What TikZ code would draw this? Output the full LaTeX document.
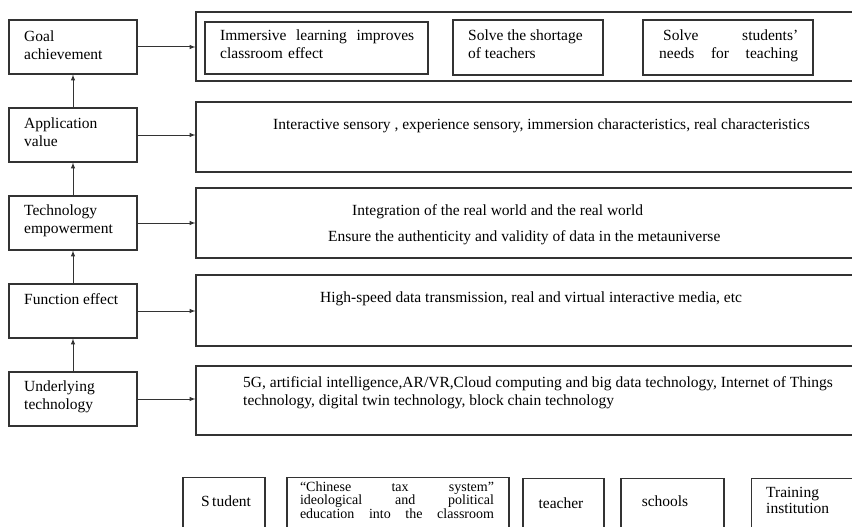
\documentclass[tikz,border=0pt]{standalone}
\usepackage{fontspec}
\setmainfont{Liberation Serif}
\usetikzlibrary{arrows,positioning,calc}

\tikzset{
  box/.style={draw=black!80, line width=1.2pt, rectangle, inner sep=0pt},
  lbox/.style={box, minimum width=128pt, minimum height=54pt},
  rbox/.style={box, minimum width=674pt, minimum height=70pt},
  txt/.style={font=\fontsize{15.5}{18}\selectfont, align=left, inner sep=0pt, anchor=north west},
  small/.style={font=\fontsize{15.5}{16}\selectfont, inner sep=0pt},
  link/.style={draw=black!80, line width=1pt, -latex},
}

\begin{document}
\begin{tikzpicture}[x=1pt,y=-1pt]
        \useasboundingbox (0,0) rectangle (852,527);
        \clip (0,0) rectangle (852,527);
        % left column
        \node[lbox] (goal) at (73,47) {};
        \node[lbox] (appval) at (73,135) {};
        \node[lbox] (techemp) at (73,223) {};
        \node[lbox] (funceff) at (73,311) {};
        \node[lbox] (undtech) at (73,399) {};
        \node[txt] at (24,31) {Goal\\achievement};
        \node[txt] at (24,118) {Application\\value};
        \node[txt] at (24,205) {Technology\\empowerment};
        \node[txt] at (24,293) {Function effect};
        \node[txt] at (24,381) {Underlying\\technology};
        % right column
        \node[rbox, minimum height=69pt] (goalR) at (533,46.5) {};
        \node[rbox] (appvalR) at (533,137) {};
        \node[rbox] (techempR) at (533,223) {};
        \node[rbox, minimum height=71pt] (funceffR) at (533,310.5) {};
        \node[rbox, minimum height=69pt] (undtechR) at (533,400.5) {};
        % goals
        \node[box, minimum width=223pt, minimum height=52pt] (immers) at (316.5,48) {};
        \node[box, minimum width=150pt, minimum height=55pt] (shortage) at (528,47.5) {};
        \node[box, minimum width=170pt, minimum height=55pt] (needs) at (728,47.5) {};
        \node[txt, text width=194pt] at (220,30) {Immersive\hfill learning\hfill improves\\classroom effect};
        \node[txt] at (468,30) {Solve the shortage\\of teachers};
        \node[txt, text width=139pt] at (659,30) {\hspace*{4pt}Solve\hfill students'\\needs\hfill for\hfill teaching};
        \node[txt] at (273,119) {Interactive sensory , experience sensory, immersion characteristics, real characteristics};
        \node[txt] at (352,204) {Integration of the real world and the real world};
        \node[txt] at (328,230) {Ensure the authenticity and validity of data in the metauniverse};
        \node[txt] at (320,292) {High-speed data transmission, real and virtual interactive media, etc};
        \node[txt] at (243,376) {5G, artificial intelligence,AR/VR,Cloud computing and big data technology, Internet of Things\\technology, digital twin technology, block chain technology};
        % arrows
        \draw[link] (undtech) -- (funceff);
        \draw[link] (funceff) -- (techemp);
        \draw[link] (techemp) -- (appval);
        \draw[link] (appval) -- (goal);
        \draw[link] (goal) -- (goal -| goalR.west);
        \draw[link] (appval) -- (appval -| appvalR.west);
        \draw[link] (techemp) -- (techemp -| techempR.west);
        \draw[link] (funceff) -- (funceff -| funceffR.west);
        \draw[link] (undtech) -- (undtech -| undtechR.west);
        % participants
        \node[box, minimum width=82pt, minimum height=80pt, anchor=north] (student) at (224,477) {};
        \node[box, minimum width=222pt, minimum height=80pt, anchor=north] (taxsys) at (398,477) {};
        \node[box, minimum width=81pt, minimum height=80pt, anchor=north] (teacher) at (563.5,478) {};
        \node[box, minimum width=103pt, minimum height=80pt, anchor=north] (schools) at (672.5,478) {};
        \node[box, minimum width=120pt, minimum height=80pt, anchor=north west] (training) at (751,478) {};
        \node[small] at (226,501) {S\,tudent};
        \node[small, font=\fontsize{14}{11}\selectfont, align=center, text width=194pt] at (397,500) {``Chinese\hfill tax\hfill system''\\ideological\hfill and\hfill political\\education\hfill into\hfill the\hfill classroom};
        \node[small] at (561,503) {teacher};
        \node[small] at (665,501) {schools};
        \node[small, align=left, anchor=west] at (766,500) {Training\\institution};
\end{tikzpicture}
\end{document}
